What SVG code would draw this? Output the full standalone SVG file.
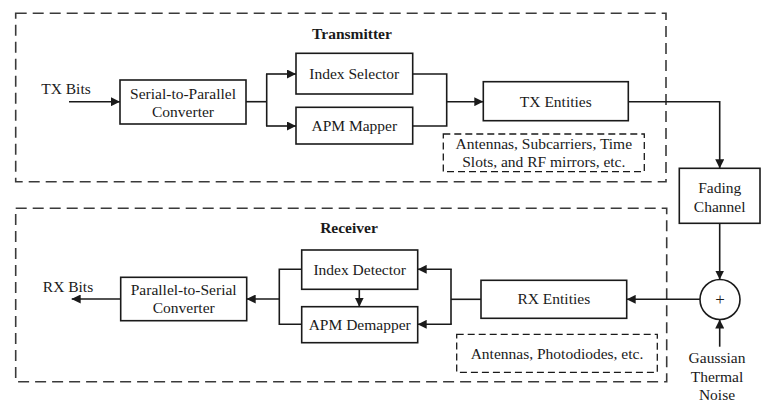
<svg xmlns="http://www.w3.org/2000/svg" width="767" height="407" viewBox="0 0 767 407">
<style>
  text { font-family: "Liberation Serif", "Times New Roman", serif; font-size: 15.5px; fill: #1a1a1a; text-anchor: middle; }
  .title { font-weight: bold; }
  .box { fill: #ffffff; stroke: #1a1a1a; stroke-width: 1.6; }
  .region { fill: none; stroke: #3a3a3a; stroke-width: 1.6; stroke-dasharray: 11 6; }
  .note { fill: none; stroke: #1a1a1a; stroke-width: 1.3; stroke-dasharray: 7 4; }
  .wire { fill: none; stroke: #1a1a1a; stroke-width: 1.6; }
</style>
<defs>
  <marker id="arr" viewBox="0 0 10 10" refX="10" refY="5" markerWidth="9" markerHeight="9" markerUnits="userSpaceOnUse" orient="auto">
    <path d="M0,0 L10,5 L0,10 Z" fill="#1a1a1a"/>
  </marker>
</defs>

<g id="transmitter-region">
  <rect class="region" x="15.7" y="13.3" width="650.3" height="168.4"/>
  <text class="title" x="352" y="39">Transmitter</text>
</g>
<g id="receiver-region">
  <rect class="region" x="15.7" y="208.3" width="651" height="173.4"/>
  <text class="title" x="349" y="232.5">Receiver</text>
</g>

<g id="tx-bits"><text x="66" y="93.5">TX Bits</text></g>
<g id="sp-converter">
  <rect class="box" x="120" y="80" width="126" height="44"/>
  <text x="183" y="98.5">Serial-to-Parallel</text>
  <text x="183" y="117">Converter</text>
</g>
<g id="index-selector">
  <rect class="box" x="296" y="53.3" width="116.7" height="40.7"/>
  <text x="354.3" y="79.3">Index Selector</text>
</g>
<g id="apm-mapper">
  <rect class="box" x="296" y="107.3" width="116.7" height="36.7"/>
  <text x="354.3" y="131">APM Mapper</text>
</g>
<g id="tx-entities">
  <rect class="box" x="483.3" y="81.7" width="145" height="39"/>
  <text x="555.8" y="106.7">TX Entities</text>
</g>
<g id="tx-note">
  <rect class="note" x="443.3" y="134" width="201" height="37.7"/>
  <text x="543.8" y="149.3">Antennas, Subcarriers, Time</text>
  <text x="543.8" y="167.3">Slots, and RF mirrors, etc.</text>
</g>
<g id="fading-channel">
  <rect class="box" x="679.3" y="168.3" width="80.7" height="55"/>
  <text x="719.7" y="193.3">Fading</text>
  <text x="719.7" y="211.7">Channel</text>
</g>
<g id="adder">
  <circle class="box" cx="720" cy="299.5" r="20"/>
  <text x="720" y="305" style="font-size:17px">+</text>
</g>
<g id="noise">
  <text x="717" y="363">Gaussian</text>
  <text x="717" y="381.7">Thermal</text>
  <text x="717" y="400">Noise</text>
</g>
<g id="rx-entities">
  <rect class="box" x="481" y="280.3" width="145.7" height="38"/>
  <text x="553.8" y="304.3">RX Entities</text>
</g>
<g id="rx-note">
  <rect class="note" x="456.7" y="334.3" width="200.6" height="38"/>
  <text x="557" y="359">Antennas, Photodiodes, etc.</text>
</g>
<g id="index-detector">
  <rect class="box" x="301.7" y="250" width="116" height="39.3"/>
  <text x="359.7" y="275">Index Detector</text>
</g>
<g id="apm-demapper">
  <rect class="box" x="301.7" y="306.7" width="116" height="36"/>
  <text x="359.7" y="330">APM Demapper</text>
</g>
<g id="ps-converter">
  <rect class="box" x="120.7" y="277.3" width="126" height="43.4"/>
  <text x="183.7" y="295">Parallel-to-Serial</text>
  <text x="183.7" y="313.3">Converter</text>
</g>
<g id="rx-bits"><text x="68" y="291.7">RX Bits</text></g>

<g id="connectors">
  <line class="wire" x1="69" y1="101.7" x2="120" y2="101.7" marker-end="url(#arr)"/>
  <polyline class="wire" points="246,101.7 266.7,101.7"/>
  <polyline class="wire" points="266.7,74 266.7,126"/>
  <line class="wire" x1="266" y1="74" x2="296" y2="74" marker-end="url(#arr)"/>
  <line class="wire" x1="266" y1="126" x2="296" y2="126" marker-end="url(#arr)"/>
  <polyline class="wire" points="412.7,74 446.7,74 446.7,126 412.7,126"/>
  <line class="wire" x1="446.7" y1="101.7" x2="483.3" y2="101.7" marker-end="url(#arr)"/>
  <polyline class="wire" points="628.3,101.7 719.7,101.7 719.7,168.3" marker-end="url(#arr)"/>
  <line class="wire" x1="719.7" y1="223.3" x2="719.7" y2="279.5" marker-end="url(#arr)"/>
  <line class="wire" x1="719.7" y1="346.7" x2="719.7" y2="319.5" marker-end="url(#arr)"/>
  <line class="wire" x1="700" y1="299.3" x2="626.7" y2="299.3" marker-end="url(#arr)"/>
  <line class="wire" x1="481" y1="299.3" x2="451" y2="299.3"/>
  <line class="wire" x1="451" y1="269.3" x2="451" y2="324.3"/>
  <line class="wire" x1="451.8" y1="269.3" x2="417.7" y2="269.3" marker-end="url(#arr)"/>
  <line class="wire" x1="451.8" y1="324.3" x2="417.7" y2="324.3" marker-end="url(#arr)"/>
  <line class="wire" x1="359.3" y1="289.3" x2="359.3" y2="306.7" marker-end="url(#arr)"/>
  <polyline class="wire" points="301.7,269.3 279.3,269.3 279.3,324.3 301.7,324.3"/>
  <line class="wire" x1="279.3" y1="299" x2="246.7" y2="299" marker-end="url(#arr)"/>
  <line class="wire" x1="120.7" y1="299" x2="71.7" y2="299" marker-end="url(#arr)"/>
</g>
</svg>
